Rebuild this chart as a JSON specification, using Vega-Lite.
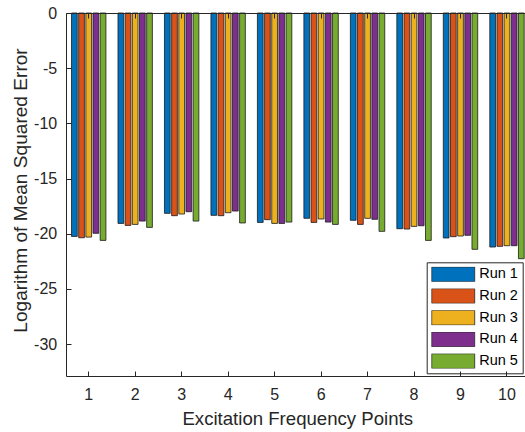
{
  "$schema": "https://vega.github.io/schema/vega-lite/v6.json",
  "width": 459,
  "height": 363,
  "autosize": {"type": "none"},
  "padding": {"left": 66, "top": 13, "right": 0, "bottom": 56},
  "background": "white",
  "config": {
    "view": {"stroke": null},
    "font": "Liberation Sans",
    "axis": {"grid": false, "domainColor": "#262626", "domainWidth": 1, "tickColor": "#262626", "tickWidth": 1, "labelColor": "#262626", "titleColor": "#262626", "titleFontWeight": "normal", "labelFont": "Liberation Sans", "titleFont": "Liberation Sans"}
  },
  "data": {
    "values": [
      {"freq": 1, "run": "Run 1", "value": -20.25}, {"freq": 1, "run": "Run 2", "value": -20.37}, {"freq": 1, "run": "Run 3", "value": -20.31}, {"freq": 1, "run": "Run 4", "value": -19.97}, {"freq": 1, "run": "Run 5", "value": -20.61},
      {"freq": 2, "run": "Run 1", "value": -19.07}, {"freq": 2, "run": "Run 2", "value": -19.25}, {"freq": 2, "run": "Run 3", "value": -19.16}, {"freq": 2, "run": "Run 4", "value": -18.86}, {"freq": 2, "run": "Run 5", "value": -19.43},
      {"freq": 3, "run": "Run 1", "value": -18.16}, {"freq": 3, "run": "Run 2", "value": -18.37}, {"freq": 3, "run": "Run 3", "value": -18.22}, {"freq": 3, "run": "Run 4", "value": -18.01}, {"freq": 3, "run": "Run 5", "value": -18.86},
      {"freq": 4, "run": "Run 1", "value": -18.34}, {"freq": 4, "run": "Run 2", "value": -18.37}, {"freq": 4, "run": "Run 3", "value": -18.10}, {"freq": 4, "run": "Run 4", "value": -17.95}, {"freq": 4, "run": "Run 5", "value": -19.03},
      {"freq": 5, "run": "Run 1", "value": -18.98}, {"freq": 5, "run": "Run 2", "value": -18.73}, {"freq": 5, "run": "Run 3", "value": -19.07}, {"freq": 5, "run": "Run 4", "value": -19.07}, {"freq": 5, "run": "Run 5", "value": -18.95},
      {"freq": 6, "run": "Run 1", "value": -18.61}, {"freq": 6, "run": "Run 2", "value": -18.98}, {"freq": 6, "run": "Run 3", "value": -18.67}, {"freq": 6, "run": "Run 4", "value": -18.95}, {"freq": 6, "run": "Run 5", "value": -19.16},
      {"freq": 7, "run": "Run 1", "value": -18.79}, {"freq": 7, "run": "Run 2", "value": -19.16}, {"freq": 7, "run": "Run 3", "value": -18.61}, {"freq": 7, "run": "Run 4", "value": -18.70}, {"freq": 7, "run": "Run 5", "value": -19.79},
      {"freq": 8, "run": "Run 1", "value": -19.55}, {"freq": 8, "run": "Run 2", "value": -19.58}, {"freq": 8, "run": "Run 3", "value": -19.34}, {"freq": 8, "run": "Run 4", "value": -19.28}, {"freq": 8, "run": "Run 5", "value": -20.61},
      {"freq": 9, "run": "Run 1", "value": -20.39}, {"freq": 9, "run": "Run 2", "value": -20.27}, {"freq": 9, "run": "Run 3", "value": -20.21}, {"freq": 9, "run": "Run 4", "value": -20.15}, {"freq": 9, "run": "Run 5", "value": -21.42},
      {"freq": 10, "run": "Run 1", "value": -21.21}, {"freq": 10, "run": "Run 2", "value": -21.15}, {"freq": 10, "run": "Run 3", "value": -21.09}, {"freq": 10, "run": "Run 4", "value": -21.09}, {"freq": 10, "run": "Run 5", "value": -22.27}
    ]
  },
  "layer": [
    {
      "mark": {"type": "bar", "stroke": "#1a1a1a", "strokeWidth": 0.8, "opacity": 1},
      "encoding": {
        "x": {
          "field": "freq", "type": "ordinal",
          "scale": {"paddingInner": 0.229, "paddingOuter": 0.0527, "align": 0.98},
          "axis": {"orient": "bottom", "labelAngle": 0, "tickSize": -5, "labelPadding": 28, "labelBaseline": "alphabetic", "labelFontSize": 16, "title": "Excitation Frequency Points", "titleFontSize": 18.6, "titleX": 231.2, "titleY": 48.7, "titleBaseline": "alphabetic", "titleAlign": "center", "zindex": 1}
        },
        "xOffset": {"field": "run", "type": "nominal", "scale": {"paddingInner": 0.2, "paddingOuter": 0.1}},
        "y": {
          "field": "value", "type": "quantitative",
          "scale": {"domain": [-32.9, 0], "nice": false, "zero": false},
          "axis": {"values": [0, -5, -10, -15, -20, -25, -30], "labelExpr": "replace(datum.label, '−', '-')", "tickSize": -5, "labelPadding": 14.3, "labelFontSize": 16, "labelBaseline": "middle", "title": "Logarithm of Mean Squared Error", "titleFontSize": 19.1, "titleX": -40, "titleY": 177, "titleBaseline": "alphabetic", "titleAlign": "center", "zindex": 1}
        },
        "color": {
          "field": "run", "type": "nominal",
          "scale": {"domain": ["Run 1", "Run 2", "Run 3", "Run 4", "Run 5"], "range": ["#0072BD", "#D95319", "#EDB120", "#7E2F8E", "#77AC30"]},
          "legend": {
            "orient": "none", "legendX": 360.7, "legendY": 249.3, "title": null,
            "strokeColor": "#262626", "fillColor": "white", "padding": 4.5,
            "symbolType": "M-1,-0.342H1V0.342H-1Z", "symbolSize": 1849, "clipHeight": 15, "rowPadding": 5.7,
            "symbolStrokeColor": "#262626", "symbolStrokeWidth": 0.8, "symbolOpacity": 1,
            "labelFontSize": 14.5, "labelOffset": 4, "labelColor": "#000000", "labelFont": "Liberation Sans",
            "encode": {"symbols": {"update": {"stroke": {"value": "#262626"}, "strokeWidth": {"value": 0.8}}}}
          }
        }
      }
    },
    {
      "mark": {"type": "bar", "opacity": 0},
      "encoding": {
        "x": {"field": "freq", "type": "ordinal", "axis": {"orient": "top", "labels": false, "title": null, "tickSize": -5, "zindex": 1}},
        "xOffset": {"field": "run", "type": "nominal"},
        "y": {"field": "value", "type": "quantitative"}
      }
    }
  ],
  "resolve": {"axis": {"x": "independent"}}
}
